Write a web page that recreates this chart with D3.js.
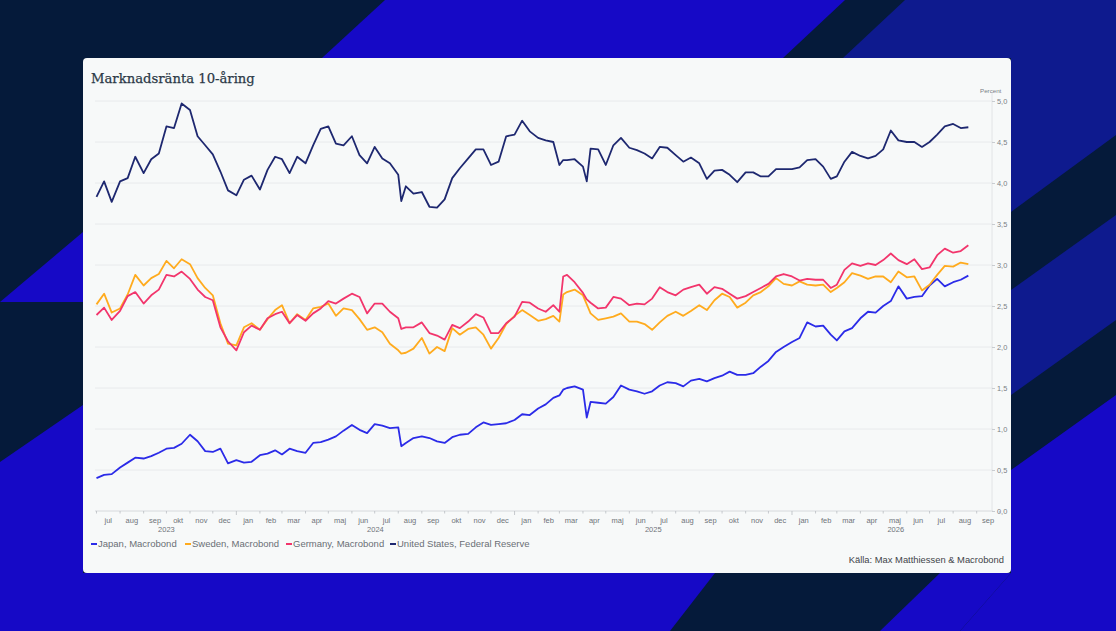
<!DOCTYPE html>
<html><head><meta charset="utf-8">
<script src="https://cdn.jsdelivr.net/npm/d3@7"></script>
<style>html,body{margin:0;padding:0;background:#051a3a;}svg{display:block;}</style>
</head><body>
<script>
// ---- DATA ----
const dates = [
"2023-07-01","2023-07-11","2023-07-21","2023-08-01","2023-08-11","2023-08-21","2023-09-01","2023-09-11","2023-09-21",
"2023-10-01","2023-10-11","2023-10-21","2023-11-01","2023-11-11","2023-11-21","2023-12-01","2023-12-11","2023-12-21",
"2024-01-01","2024-01-11","2024-01-21","2024-02-01","2024-02-11","2024-02-21","2024-03-01","2024-03-11","2024-03-21",
"2024-04-01","2024-04-11","2024-04-21","2024-05-01","2024-05-11","2024-05-21","2024-06-01","2024-06-11","2024-06-21",
"2024-07-01","2024-07-11","2024-07-21","2024-08-01","2024-08-05","2024-08-11","2024-08-21","2024-09-01","2024-09-11","2024-09-21",
"2024-10-01","2024-10-11","2024-10-21","2024-11-01","2024-11-11","2024-11-21","2024-12-01","2024-12-11","2024-12-21",
"2025-01-01","2025-01-11","2025-01-21","2025-02-01","2025-02-11","2025-02-21","2025-03-01","2025-03-06","2025-03-11","2025-03-21",
"2025-04-01","2025-04-06","2025-04-11","2025-04-21","2025-05-01","2025-05-11","2025-05-21","2025-06-01","2025-06-11","2025-06-21",
"2025-07-01","2025-07-11","2025-07-21","2025-08-01","2025-08-11","2025-08-21","2025-09-01","2025-09-11","2025-09-21",
"2025-10-01","2025-10-11","2025-10-21","2025-11-01","2025-11-11","2025-11-21","2025-12-01","2025-12-11","2025-12-21",
"2026-01-01","2026-01-11","2026-01-21","2026-02-01","2026-02-11","2026-02-21","2026-03-01","2026-03-11","2026-03-21",
"2026-04-01","2026-04-11","2026-04-21","2026-05-01","2026-05-11","2026-05-21","2026-06-01","2026-06-11","2026-06-21",
"2026-07-01","2026-07-11","2026-07-21","2026-08-01","2026-08-11","2026-08-21"
];
const japan = [
0.40,0.44,0.45,0.53,0.59,0.65,0.64,0.67,0.71,0.76,0.77,0.82,0.93,0.85,0.73,0.72,0.76,0.58,
0.62,0.59,0.60,0.68,0.70,0.74,0.69,0.76,0.73,0.71,0.83,0.84,0.87,0.91,0.98,1.05,0.99,0.95,
1.06,1.04,1.01,1.02,0.79,0.83,0.89,0.91,0.89,0.85,0.83,0.90,0.93,0.94,1.02,1.08,1.05,1.06,1.07,
1.11,1.18,1.17,1.25,1.30,1.38,1.41,1.48,1.50,1.52,1.48,1.14,1.33,1.32,1.31,1.39,1.53,1.48,1.46,1.43,
1.46,1.53,1.57,1.56,1.52,1.59,1.61,1.58,1.62,1.65,1.70,1.66,1.66,1.68,1.76,1.83,1.94,2.00,
2.06,2.11,2.30,2.25,2.26,2.15,2.08,2.19,2.23,2.35,2.43,2.42,2.50,2.56,2.74,2.59,2.61,2.62,
2.75,2.83,2.74,2.79,2.82,2.87
];
const sweden = [
2.52,2.65,2.42,2.47,2.64,2.88,2.75,2.84,2.89,3.05,2.96,3.07,3.01,2.84,2.72,2.63,2.29,2.04,
2.02,2.24,2.29,2.21,2.34,2.45,2.51,2.29,2.40,2.33,2.47,2.49,2.53,2.38,2.47,2.45,2.34,2.21,
2.24,2.18,2.04,1.96,1.92,1.93,1.98,2.11,1.92,2.00,1.95,2.23,2.15,2.22,2.24,2.15,1.98,2.11,2.28,
2.38,2.45,2.39,2.32,2.34,2.38,2.31,2.64,2.67,2.70,2.63,2.52,2.41,2.33,2.35,2.37,2.41,2.31,2.31,2.28,
2.21,2.30,2.38,2.43,2.38,2.44,2.51,2.45,2.57,2.65,2.61,2.48,2.54,2.63,2.67,2.74,2.84,2.77,
2.75,2.80,2.76,2.75,2.76,2.67,2.72,2.79,2.90,2.87,2.83,2.86,2.86,2.79,2.92,2.85,2.86,2.69,
2.76,2.88,2.99,2.98,3.03,3.01
];
const germany = [
2.39,2.48,2.33,2.44,2.62,2.67,2.53,2.63,2.70,2.88,2.86,2.92,2.83,2.70,2.61,2.57,2.24,2.07,
1.96,2.18,2.26,2.21,2.35,2.40,2.43,2.29,2.39,2.32,2.41,2.47,2.56,2.53,2.59,2.65,2.61,2.41,
2.53,2.53,2.43,2.35,2.22,2.24,2.24,2.30,2.17,2.14,2.09,2.27,2.23,2.31,2.40,2.36,2.17,2.17,2.29,
2.37,2.55,2.54,2.47,2.43,2.51,2.43,2.86,2.88,2.79,2.66,2.58,2.54,2.47,2.48,2.61,2.59,2.51,2.53,2.52,
2.59,2.73,2.67,2.63,2.70,2.73,2.76,2.65,2.73,2.71,2.65,2.59,2.62,2.67,2.72,2.77,2.86,2.89,
2.86,2.81,2.83,2.82,2.82,2.72,2.76,2.94,3.02,2.99,3.02,3.00,3.06,3.14,3.06,3.01,3.07,2.95,
2.97,3.12,3.20,3.15,3.17,3.24
];
const usa = [
3.83,4.02,3.77,4.02,4.06,4.32,4.12,4.29,4.36,4.69,4.67,4.97,4.89,4.57,4.46,4.35,4.14,3.91,
3.85,4.04,4.09,3.92,4.16,4.32,4.29,4.12,4.32,4.24,4.46,4.66,4.69,4.48,4.46,4.57,4.34,4.24,
4.44,4.30,4.24,4.10,3.78,3.96,3.87,3.89,3.71,3.70,3.80,4.06,4.18,4.30,4.41,4.41,4.22,4.26,4.57,
4.59,4.76,4.63,4.55,4.52,4.50,4.22,4.28,4.28,4.29,4.20,4.02,4.42,4.41,4.22,4.46,4.55,4.43,4.40,4.36,
4.30,4.44,4.43,4.34,4.26,4.31,4.24,4.05,4.15,4.16,4.10,4.01,4.13,4.13,4.08,4.08,4.17,4.17,
4.17,4.19,4.28,4.29,4.20,4.05,4.08,4.26,4.38,4.33,4.30,4.33,4.41,4.64,4.52,4.50,4.50,4.44,
4.50,4.59,4.69,4.72,4.67,4.68
];
const seriesNames = ["Japan, Macrobond","Sweden, Macrobond","Germany, Macrobond","United States, Federal Reserve"];
const seriesColors = ["#2b2be8","#ffab1e","#f2356c","#1e2870"];
const monthNames = ["jan","feb","mar","apr","maj","jun","jul","aug","sep","okt","nov","dec"];
const yTicks = [0,0.5,1,1.5,2,2.5,3,3.5,4,4.5,5];
const titleText = "Marknadsränta 10-åring";
const sourceText = "Källa: Max Matthiessen & Macrobond";
const unitText = "Percent";

// ---- DRAW ----
const W = 1116, H = 631;
const svg = d3.select("body").append("svg").attr("width", W).attr("height", H);

// background shapes
const bg = svg.append("g");
bg.append("rect").attr("width", W).attr("height", H).attr("fill", "#051a3a");
const blue = "#1609c6", blue2 = "#0e1a8e";
const polys = [
  [[385,0],[845,0],[783,58],[322,58]],
  [[905,0],[1116,0],[1116,58],[843,58]],
  [[1011,58],[1116,58],[1116,135],[1011,212]],
  [[1011,290],[1116,215],[1116,320],[1011,395]],
  [[1011,470],[1116,395],[1116,631],[960,631],[1011,573]],
  [[0,302],[83,232],[83,302]],
  [[0,462],[83,405],[83,631],[0,631]],
  [[83,573],[715,573],[670,631],[83,631]],
  [[880,631],[940,573],[1011,573],[960,631]]
];
polys.forEach((p, i) => bg.append("polygon").attr("points", p.map(d => d.join(",")).join(" "))
  .attr("fill", (i === 1 || i === 2 || i === 3) ? blue2 : blue));

// card
svg.append("rect").attr("x", 83).attr("y", 58).attr("width", 928).attr("height", 515)
  .attr("rx", 4).attr("fill", "#f7f9f9");

svg.append("text").attr("x", 91).attr("y", 83).text(titleText)
  .attr("font-family", "DejaVu Serif").attr("font-size", 13.2).attr("fill", "#2c3a48")
  .attr("stroke", "#2c3a48").attr("stroke-width", 0.25);

const parse = d3.timeParse("%Y-%m-%d");
const t = dates.map(parse);
const x = d3.scaleTime().domain([new Date(2023,6,1), new Date(2026,9,1)]).range([96.5, 999.5]);
const y = d3.scaleLinear().domain([0,5]).range([511,101]);
const plotL = 95, plotR = 993;

const loc = d3.formatLocale({decimal: ",", thousands: " ", grouping: [3], currency: ["", ""]});
const fmt = loc.format(".1f");

// grid
const grid = svg.append("g");
grid.selectAll("line").data(yTicks).join("line")
  .attr("x1", plotL).attr("x2", plotR).attr("y1", d => y(d)).attr("y2", d => y(d))
  .attr("stroke", d => d === 0 ? "#d6d9dc" : "#e8eaec").attr("stroke-width", 1);

// right y axis
const yAxis = d3.axisRight(y).tickValues(yTicks).tickFormat(fmt).tickSize(3).tickPadding(2);
const ya = svg.append("g").attr("transform", `translate(${plotR - 1},0)`).call(yAxis);
ya.select(".domain").attr("stroke", "#e2e4e6").attr("d", `M0,${y(5)-8}V${y(0)}`);
ya.selectAll(".tick line").attr("stroke", "#c9ccd0");
ya.selectAll("text").attr("font-family", "Liberation Sans").attr("font-size", 7.4).attr("fill", "#7a7f85");
svg.append("text").attr("x", 980).attr("y", 93).text(unitText)
  .attr("font-family", "Liberation Sans").attr("font-size", 6.2).attr("fill", "#7a7f85");

// x axis: month ticks
const months = d3.timeMonth.range(new Date(2023,6,1), new Date(2026,9,2));
const xa = svg.append("g");
xa.selectAll("line").data(months).join("line")
  .attr("x1", d => x(d)).attr("x2", d => x(d))
  .attr("y1", y(0)).attr("y2", d => y(0) + (d.getMonth() === 0 ? 4 : 2.5))
  .attr("stroke", "#b9bdc2").attr("stroke-width", 0.8);
const monthMid = d3.timeMonth.range(new Date(2023,6,1), new Date(2026,9,1));
xa.selectAll("text.m").data(monthMid).join("text").attr("class","m")
  .attr("x", d => (x(d) + x(d3.timeMonth.offset(d,1))) / 2).attr("y", 523)
  .attr("text-anchor","middle").text(d => monthNames[d.getMonth()])
  .attr("font-family","Liberation Sans").attr("font-size",7.5).attr("fill","#6f747a");
const years = [2023,2024,2025,2026];
xa.selectAll("text.y").data(years).join("text").attr("class","y")
  .attr("x", yr => {
    const a = d3.max([new Date(yr,0,1), x.domain()[0]]);
    const b = d3.min([new Date(yr+1,0,1), x.domain()[1]]);
    return (x(a) + x(b)) / 2;
  })
  .attr("y", 532).attr("text-anchor","middle").text(yr => yr)
  .attr("font-family","Liberation Sans").attr("font-size",7.5).attr("fill","#6f747a");

// lines
const allSeries = [japan, sweden, germany, usa];
const line = d3.line().x((d,i) => x(t[i])).y(d => y(d)).curve(d3.curveLinear);
const lg = svg.append("g");
allSeries.forEach((s, k) => {
  lg.append("path").datum(s).attr("d", line).attr("fill","none")
    .attr("stroke", seriesColors[k]).attr("stroke-width", 1.8).attr("stroke-linejoin","round");
});

// legend
const legX = [91, 185, 286, 390];
const leg = svg.append("g");
seriesNames.forEach((n, k) => {
  leg.append("line").attr("x1", legX[k]).attr("x2", legX[k] + 6).attr("y1", 544).attr("y2", 544)
    .attr("stroke", seriesColors[k]).attr("stroke-width", 2);
  leg.append("text").attr("x", legX[k] + 7).attr("y", 547.3).text(n)
    .attr("font-family","Liberation Sans").attr("font-size",9.5).attr("fill","#6a6f75");
});

svg.append("text").attr("x", 1004).attr("y", 562.5).attr("text-anchor","end").text(sourceText)
  .attr("font-family","Liberation Sans").attr("font-size",9.4).attr("fill","#3f4449");
</script>
</body></html>
